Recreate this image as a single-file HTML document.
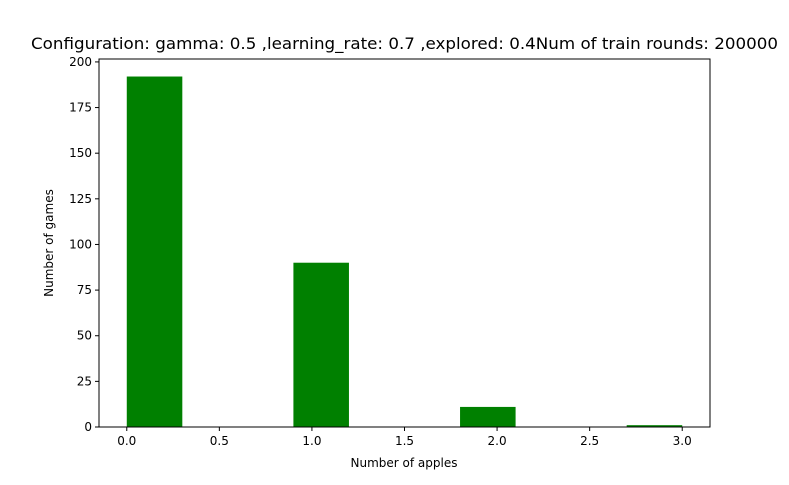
<!DOCTYPE html>
<html><head><meta charset="utf-8"><style>
body{margin:0;background:#fff;font-family:"Liberation Sans","DejaVu Sans",sans-serif;}
svg text{font-family:"DejaVu Sans","Liberation Sans",sans-serif;}
</style></head><body>
<svg id="chart" width="789" height="480" xmlns="http://www.w3.org/2000/svg">
<rect width="789" height="480" fill="#fff"/>
<g id="bars"></g>
<g id="axes"></g>
<text x="31" y="49" font-size="16" textLength="747" lengthAdjust="spacingAndGlyphs">Configuration: gamma: 0.5 ,learning_rate: 0.7 ,explored: 0.4Num of train rounds: 200000</text>
<text x="404" y="467" font-size="12" text-anchor="middle">Number of apples</text>
<text transform="translate(53,243) rotate(-90)" font-size="12" text-anchor="middle">Number of games</text>
</svg>
<script>
const binEdges = [0,0.3,0.6,0.9,1.2,1.5,1.8,2.1,2.4,2.7,3.0];
const counts = [192,0,0,90,0,0,11,0,0,1];
const xTicks = [0,0.5,1,1.5,2,2.5,3];
const xTickLabels = ["0.0","0.5","1.0","1.5","2.0","2.5","3.0"];
const yTicks = [0,25,50,75,100,125,150,175,200];

const L=99,R=710,T=59,B=427;
const xMin=-0.15,xMax=3.15,yMax=201.6;
const xs=v=>L+(v-xMin)/(xMax-xMin)*(R-L);
const ys=v=>B-v/yMax*(B-T);
const NS="http://www.w3.org/2000/svg";
const bars=document.getElementById('bars'),axes=document.getElementById('axes');
function mk(t,a,p){const e=document.createElementNS(NS,t);for(const k in a)e.setAttribute(k,a[k]);p.appendChild(e);return e;}
counts.forEach((c,i)=>{
  if(c<=0)return;
  const x0=xs(binEdges[i]),x1=xs(binEdges[i+1]);
  const r=mk('rect',{x:x0,y:ys(c),width:x1-x0,height:B-ys(c),fill:'#008000'},bars);
  
  
});
const frame=mk('rect',{x:L,y:T,width:R-L,height:B-T,fill:'none',stroke:'#000','stroke-width':1},axes);


xTicks.forEach((v,i)=>{
  const x=xs(v);
  mk('line',{x1:x,x2:x,y1:B,y2:B+4,stroke:'#000'},axes);
  const t=mk('text',{x:x,y:B+18,'font-size':12,'text-anchor':'middle'},axes);
  t.textContent=xTickLabels[i];
  
  
});
yTicks.forEach(v=>{
  const y=ys(v);
  mk('line',{x1:L-4,x2:L,y1:y,y2:y,stroke:'#000'},axes);
  const t=mk('text',{x:L-7,y:y+4,'font-size':12,'text-anchor':'end'},axes);
  t.textContent=v;
  
  
});
</script>
</body></html>
